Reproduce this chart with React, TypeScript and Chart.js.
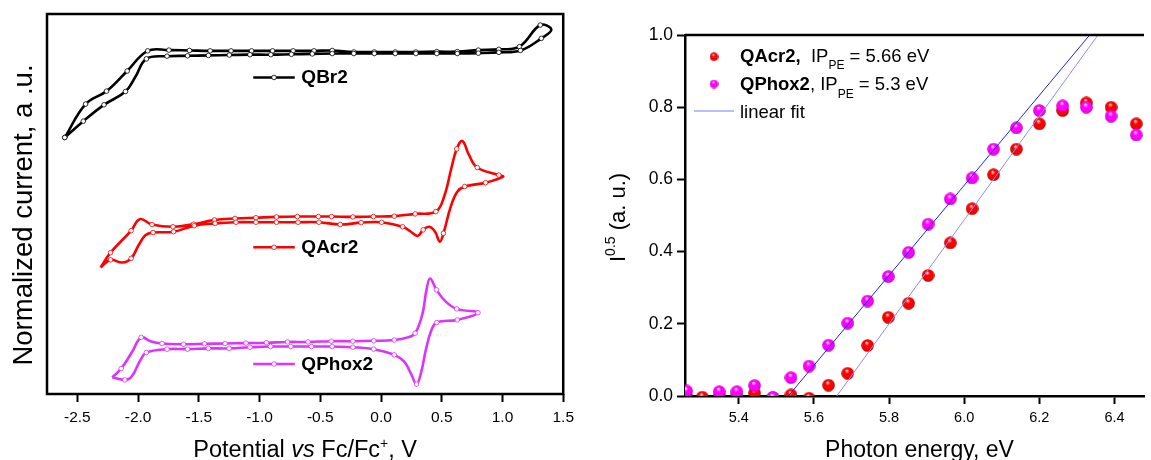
import React, { useEffect, useRef } from "react";
import { Chart, registerables } from "chart.js";

Chart.register(...registerables);

const FONT = "Arial, 'Liberation Sans', Helvetica, sans-serif";

// ---------------- Left panel: cyclic voltammograms (a.u.) ----------------
const QBR2_POTENTIAL = [
  -2.604, -2.432, -2.26, -2.09, -1.921, -1.746, -1.577, -1.407, -1.235, -1.066, -0.893, -0.724, -0.552,
  -0.402, -0.224, -0.055, 0.117, 0.287, 0.459, 0.628, 0.801, 0.97, 1.139, 1.311, 1.402, 1.32, 1.148,
  0.97, 0.801, 0.628, 0.459, 0.287, 0.117, -0.055, -0.224, -0.402, -0.566, -0.738, -0.907, -1.079,
  -1.249, -1.421, -1.593, -1.762, -1.932, -2.022, -2.104, -2.281, -2.451, -2.604,
];
const QBR2_CURRENT = [
  67.5, 76.3, 79.7, 85.0, 90.3, 90.5, 90.4, 90.3, 90.3, 90.3, 90.3, 90.3, 90.3, 90.4, 90.0, 90.0, 90.0,
  90.0, 90.1, 90.1, 90.5, 90.7, 91.4, 97.1, 95.9, 93.6, 90.4, 89.9, 89.7, 89.6, 89.6, 89.6, 89.6, 89.6,
  89.6, 89.6, 89.5, 89.4, 89.3, 89.3, 89.2, 89.1, 89.0, 88.9, 88.2, 83.5, 79.6, 76.1, 71.8, 67.5,
];
const QBR2_PLAIN = [24, 45];

const QACR2_POTENTIAL = [
  -2.309, -2.227, -2.057, -1.986, -1.885, -1.713, -1.544, -1.372, -1.202, -1.03, -0.861, -0.689, -0.516,
  -0.407, -0.232, -0.063, 0.109, 0.281, 0.451, 0.519, 0.582, 0.623, 0.669, 0.724, 0.792, 0.97, 1.005,
  0.861, 0.689, 0.628, 0.574, 0.514, 0.484, 0.445, 0.396, 0.347, 0.301, 0.246, 0.178, 0.005, -0.164,
  -0.336, -0.511, -0.683, -0.861, -1.03, -1.194, -1.366, -1.538, -1.708, -1.877, -1.94, -1.995, -2.057,
  -2.131, -2.227, -2.309,
];
const QACR2_CURRENT = [
  33.3, 37.2, 43.0, 46.0, 44.6, 44.0, 44.7, 45.8, 46.2, 46.4, 46.6, 46.7, 46.7, 46.7, 46.6, 46.7, 46.8,
  47.4, 48.0, 51.9, 59.8, 64.5, 66.6, 62.9, 59.6, 57.6, 57.2, 55.6, 54.6, 53.2, 49.3, 42.3, 40.1, 42.7,
  44.0, 43.2, 41.6, 42.7, 44.0, 45.2, 45.1, 44.6, 45.2, 45.2, 45.2, 45.2, 45.2, 44.9, 44.3, 42.7, 42.5,
  41.8, 39.2, 35.7, 34.6, 35.3, 33.3,
];
const QACR2_PLAIN = [0, 3, 19, 20, 22, 23, 26, 29, 30, 32, 33, 34, 36, 37, 51, 52, 54, 56];

const QPHOX2_POTENTIAL = [
  -2.213, -2.139, -2.049, -1.975, -1.899, -1.803, -1.626, -1.454, -1.284, -1.112, -0.943, -0.77, -0.601,
  -0.41, -0.232, -0.06, 0.109, 0.219, 0.281, 0.342, 0.374, 0.404, 0.456, 0.533, 0.623, 0.798, 0.628,
  0.459, 0.41, 0.369, 0.328, 0.292, 0.246, 0.191, 0.109, -0.06, -0.232, -0.402, -0.574, -0.743, -0.91,
  -1.079, -1.251, -1.421, -1.593, -1.762, -1.932, -1.981, -2.036, -2.068, -2.109, -2.213,
];
const QPHOX2_CURRENT = [
  4.4, 6.7, 11.1, 14.9, 13.9, 13.3, 13.1, 13.2, 13.3, 13.4, 13.5, 13.7, 13.7, 13.9, 13.9, 14.0, 14.2,
  14.9, 16.0, 21.2, 27.4, 30.4, 27.4, 24.3, 22.4, 21.4, 19.5, 18.8, 16.4, 11.6, 5.4, 2.6, 5.4, 8.5,
  10.3, 11.8, 12.3, 12.5, 12.5, 12.5, 12.5, 12.3, 12.0, 12.0, 11.8, 11.8, 10.9, 8.9, 5.4, 4.1, 3.7, 4.4,
];
const QPHOX2_PLAIN = [0, 2, 4, 17, 19, 20, 21, 23, 28, 29, 30, 32, 33, 47, 48, 49, 51];

const CV_LABELS = ["QBr2", "QAcr2", "QPhox2"];
const CV_COLORS = ["#000000", "#ff0000", "#dd33ff"];
const CV_LEGEND_LEVEL = [83.3, 38.6, 7.9];

// ---------------- Right panel: photoelectron yield ----------------
const ENERGY_QACR2 = [
  5.261, 5.303, 5.348, 5.395, 5.442, 5.491, 5.539, 5.587, 5.639, 5.69, 5.743, 5.798, 5.852, 5.904, 5.963,
  6.021, 6.078, 6.139, 6.2, 6.262, 6.325, 6.391, 6.458,
];
const YIELD_QACR2 = [
  0.0, -0.003, 0.0, 0.0, 0.008, -0.004, 0.003, -0.006, 0.03, 0.063, 0.14, 0.218, 0.257, 0.334, 0.424,
  0.519, 0.613, 0.684, 0.754, 0.791, 0.812, 0.8, 0.754,
];
const ENERGY_QPHOX2 = [
  5.261, 5.348, 5.395, 5.442, 5.491, 5.539, 5.587, 5.639, 5.69, 5.743, 5.798, 5.852, 5.904, 5.963, 6.021,
  6.078, 6.139, 6.2, 6.262, 6.325, 6.391, 6.458,
];
const YIELD_QPHOX2 = [
  0.014, 0.012, 0.012, 0.029, -0.004, 0.051, 0.083, 0.141, 0.202, 0.263, 0.331, 0.398, 0.476, 0.546,
  0.604, 0.684, 0.743, 0.791, 0.804, 0.8, 0.775, 0.723,
];
const FIT_QPHOX2_ENERGY = [5.532, 6.334];
const FIT_QPHOX2_VALUE = [0, 1.0];
const FIT_QACR2_ENERGY = [5.661, 6.356];
const FIT_QACR2_VALUE = [0, 1.0];

const LEGEND_QACR2 = ["QAcr2,", "  IP", "PE", " = 5.66 eV"];
const LEGEND_QPHOX2 = ["QPhox2", ", IP", "PE", " = 5.3 eV"];
const LEGEND_FIT = "linear fit";

// ---------------- helpers ----------------
type Run = { text: string; size: number; weight?: string; style?: string; dy?: number };

const fontOf = (r: Run) => `${r.style || "normal"} normal ${r.weight || "normal"} ${r.size}px ${FONT}`;

function drawRuns(ctx: CanvasRenderingContext2D, runs: Run[], x: number, y: number, align: "left" | "center") {
  ctx.save();
  ctx.textBaseline = "alphabetic";
  ctx.textAlign = "left";
  ctx.fillStyle = "#000";
  let total = 0;
  for (const r of runs) {
    ctx.font = fontOf(r);
    total += ctx.measureText(r.text).width;
  }
  let cx = align === "center" ? x - total / 2 : x;
  for (const r of runs) {
    ctx.font = fontOf(r);
    ctx.fillText(r.text, cx, y + (r.dy || 0));
    cx += ctx.measureText(r.text).width;
  }
  ctx.restore();
}

function zip(xs: number[], ys: number[]) {
  return xs.map((x, i) => ({ x, y: ys[i] }));
}

function makeSphere(d: number, base: string, light: string, shade: string): HTMLCanvasElement {
  const c = document.createElement("canvas");
  c.width = d;
  c.height = d;
  const g = c.getContext("2d")!;
  const r = d / 2;
  const grad = g.createRadialGradient(r * 0.85, r * 0.55, r * 0.05, r, r, r);
  grad.addColorStop(0, light);
  grad.addColorStop(0.32, base);
  grad.addColorStop(0.75, base);
  grad.addColorStop(1, shade);
  g.fillStyle = grad;
  g.beginPath();
  g.arc(r, r, r - 0.2, 0, Math.PI * 2);
  g.fill();
  return c;
}

function cvDataset(label: string, xs: number[], ys: number[], plain: number[], color: string) {
  return {
    label,
    data: zip(xs, ys),
    showLine: true,
    borderColor: color,
    borderWidth: 2.6,
    tension: 0.4,
    pointRadius: (c: any) => (plain.includes(c.dataIndex) ? 0 : 2.3),
    pointBackgroundColor: "#ffffff",
    pointBorderColor: color,
    pointBorderWidth: 0.8,
  };
}

// ---------------- component ----------------
export default function App() {
  const leftRef = useRef<HTMLCanvasElement>(null);
  const rightRef = useRef<HTMLCanvasElement>(null);

  useEffect(() => {
    const leftPlugin = {
      id: "cvDecor",
      afterDatasetsDraw(chart: any) {
        const { ctx, chartArea, scales } = chart;
        const x = scales.x;
        const y = scales.y;
        ctx.save();
        ctx.strokeStyle = "#000";
        ctx.lineWidth = 2.5;
        ctx.strokeRect(chartArea.left, chartArea.top, chartArea.right - chartArea.left, chartArea.bottom - chartArea.top);
        // in-plot legends
        CV_LABELS.forEach((label, i) => {
          const py = y.getPixelForValue(CV_LEGEND_LEVEL[i]);
          const x0 = x.getPixelForValue(-1.052);
          const x1 = x.getPixelForValue(-0.71);
          ctx.strokeStyle = CV_COLORS[i];
          ctx.lineWidth = 2.6;
          ctx.beginPath();
          ctx.moveTo(x0, py);
          ctx.lineTo(x1, py);
          ctx.stroke();
          ctx.beginPath();
          ctx.arc((x0 + x1) / 2, py, 2.3, 0, Math.PI * 2);
          ctx.fillStyle = "#fff";
          ctx.fill();
          ctx.lineWidth = 0.8;
          ctx.stroke();
          ctx.fillStyle = "#000";
          ctx.font = `bold 19px ${FONT}`;
          ctx.textBaseline = "middle";
          ctx.textAlign = "left";
          ctx.fillText(label, x.getPixelForValue(-0.656), py + 0.5);
        });
        ctx.restore();
      },
      afterDraw(chart: any) {
        const { ctx, chartArea } = chart;
        drawRuns(
          ctx,
          [
            { text: "Potential ", size: 23.5 },
            { text: "vs", size: 23.5, style: "italic" },
            { text: " Fc/Fc", size: 23.5 },
            { text: "+", size: 14, dy: -9 },
            { text: ", V", size: 23.5 },
          ],
          (chartArea.left + chartArea.right) / 2,
          456.5,
          "center"
        );
        ctx.save();
        ctx.translate(31.6, (chartArea.top + chartArea.bottom) / 2 + 11);
        ctx.rotate(-Math.PI / 2);
        drawRuns(ctx, [{ text: "Normalized current, a .u.", size: 27.5 }], 0, 0, "center");
        ctx.restore();
      },
    };

    const left = new Chart(leftRef.current!, {
      type: "scatter",
      data: {
        datasets: [
          cvDataset(CV_LABELS[0], QBR2_POTENTIAL, QBR2_CURRENT, QBR2_PLAIN, CV_COLORS[0]),
          cvDataset(CV_LABELS[1], QACR2_POTENTIAL, QACR2_CURRENT, QACR2_PLAIN, CV_COLORS[1]),
          cvDataset(CV_LABELS[2], QPHOX2_POTENTIAL, QPHOX2_CURRENT, QPHOX2_PLAIN, CV_COLORS[2]),
        ] as any,
      },
      options: {
        animation: false,
        responsive: false,
        maintainAspectRatio: false,
        events: [],
        layout: { padding: { left: 47, top: 14, right: 14, bottom: 0 } },
        plugins: { legend: { display: false }, tooltip: { enabled: false } },
        scales: {
          x: {
            type: "linear",
            min: -2.75,
            max: 1.5,
            afterFit: (s: any) => {
              s.height = 66;
            },
            ticks: {
              stepSize: 0.5,
              includeBounds: false,
              maxRotation: 0,
              padding: 6,
              color: "#000",
              font: { family: FONT, size: 15.5 },
              callback: (v: any) => Number(v).toFixed(1),
            },
            grid: { drawOnChartArea: false, drawTicks: true, tickLength: 8, tickWidth: 2, tickColor: "#000" },
            border: { display: false },
          },
          y: { type: "linear", min: 0, max: 100, display: false },
        },
      } as any,
      plugins: [leftPlugin],
    });

    const sphereRed = makeSphere(13, "#ff0000", "#ffe0e0", "#a00000");
    const sphereMag = makeSphere(13, "#ff00ff", "#ffe6ff", "#b000b0");
    const smallRed = makeSphere(9, "#ff0000", "#ffe0e0", "#a00000");
    const smallMag = makeSphere(9, "#ff00ff", "#ffe6ff", "#b000b0");

    const rightPlugin = {
      id: "peDecor",
      afterDraw(chart: any) {
        const { ctx, chartArea } = chart;
        const L = chartArea.left;
        const T = chartArea.top;
        ctx.save();
        ctx.strokeStyle = "#000";
        ctx.lineWidth = 2.5;
        ctx.beginPath();
        ctx.moveTo(L, T);
        ctx.lineTo(chartArea.right, T);
        ctx.stroke();
        ctx.restore();

        // legend
        ctx.drawImage(smallRed, L + 29 - 4.5, T + 21.7 - 4.5);
        ctx.drawImage(smallMag, L + 29 - 4.5, T + 49 - 4.5);
        drawRuns(
          ctx,
          [
            { text: LEGEND_QACR2[0], size: 18.5, weight: "bold" },
            { text: LEGEND_QACR2[1], size: 18.5 },
            { text: LEGEND_QACR2[2], size: 12, dy: 7.5 },
            { text: LEGEND_QACR2[3], size: 18.5 },
          ],
          L + 55,
          T + 26.7,
          "left"
        );
        drawRuns(
          ctx,
          [
            { text: LEGEND_QPHOX2[0], size: 18.5, weight: "bold" },
            { text: LEGEND_QPHOX2[1], size: 18.5 },
            { text: LEGEND_QPHOX2[2], size: 12, dy: 7.5 },
            { text: LEGEND_QPHOX2[3], size: 18.5 },
          ],
          L + 55,
          T + 55,
          "left"
        );
        ctx.save();
        ctx.strokeStyle = "#7b7bff";
        ctx.lineWidth = 1.2;
        ctx.beginPath();
        ctx.moveTo(L + 9, T + 76);
        ctx.lineTo(L + 49, T + 76);
        ctx.stroke();
        ctx.restore();
        drawRuns(ctx, [{ text: LEGEND_FIT, size: 18.5 }], L + 55, T + 83, "left");

        // axis titles
        drawRuns(ctx, [{ text: "Photon energy, eV", size: 23 }], (L + chartArea.right) / 2 + 5, 456.7, "center");
        ctx.save();
        ctx.translate(L - 60, 262);
        ctx.rotate(-Math.PI / 2);
        drawRuns(
          ctx,
          [
            { text: "I", size: 22 },
            { text: "0.5", size: 14, dy: -10 },
            { text: " (a. u.)", size: 22 },
          ],
          0,
          0,
          "left"
        );
        ctx.restore();
      },
    };

    const right = new Chart(rightRef.current!, {
      type: "scatter",
      data: {
        datasets: [
          {
            label: "linear fit QPhox2",
            data: zip(FIT_QPHOX2_ENERGY, FIT_QPHOX2_VALUE),
            showLine: true,
            borderColor: "#2020ff",
            borderWidth: 1,
            pointRadius: 0,
            order: 0,
            clip: 0,
          },
          {
            label: "linear fit QAcr2",
            data: zip(FIT_QACR2_ENERGY, FIT_QACR2_VALUE),
            showLine: true,
            borderColor: "#8c8cff",
            borderWidth: 1,
            pointRadius: 0,
            order: 0,
            clip: 0,
          },
          {
            label: "QPhox2",
            data: zip(ENERGY_QPHOX2, YIELD_QPHOX2),
            pointStyle: sphereMag,
            pointRadius: 6,
            order: 1,
            clip: 0,
          },
          {
            label: "QAcr2",
            data: zip(ENERGY_QACR2, YIELD_QACR2),
            pointStyle: sphereRed,
            pointRadius: 6,
            order: 2,
            clip: 0,
          },
        ] as any,
      },
      options: {
        animation: false,
        responsive: false,
        maintainAspectRatio: false,
        events: [],
        layout: { padding: { left: 0, top: 35, right: 0, bottom: 0 } },
        plugins: { legend: { display: false }, tooltip: { enabled: false } },
        scales: {
          x: {
            type: "linear",
            min: 5.257,
            max: 6.4785,
            afterFit: (s: any) => {
              s.height = 64;
            },
            ticks: {
              stepSize: 0.2,
              includeBounds: false,
              maxRotation: 0,
              padding: 5,
              color: "#000",
              font: { family: FONT, size: 14.5 },
              callback: (v: any) => Number(v).toFixed(1),
            },
            grid: { drawOnChartArea: false, drawTicks: true, tickLength: 8, tickWidth: 2, tickColor: "#000" },
            border: { display: true, color: "#000", width: 2.5 },
          },
          y: {
            type: "linear",
            min: 0,
            max: 1.0,
            afterFit: (s: any) => {
              s.width = 95;
            },
            ticks: {
              stepSize: 0.2,
              padding: 4,
              color: "#000",
              font: { family: FONT, size: 17.5 },
              callback: (v: any) => Number(v).toFixed(1),
            },
            grid: { drawOnChartArea: false, drawTicks: true, tickLength: 8, tickWidth: 2, tickColor: "#000" },
            border: { display: true, color: "#000", width: 2.5 },
          },
        },
      } as any,
      plugins: [rightPlugin],
    });

    return () => {
      left.destroy();
      right.destroy();
    };
  }, []);

  return (
    <div style={{ position: "fixed", left: 0, top: 0, width: 1151, height: 460, background: "#fff" }}>
      <canvas
        ref={leftRef}
        width={580}
        height={460}
        style={{ position: "absolute", left: 0, top: 0, width: 580, height: 460 }}
      />
      <canvas
        ref={rightRef}
        width={561}
        height={460}
        style={{ position: "absolute", left: 590, top: 0, width: 561, height: 460 }}
      />
    </div>
  );
}
